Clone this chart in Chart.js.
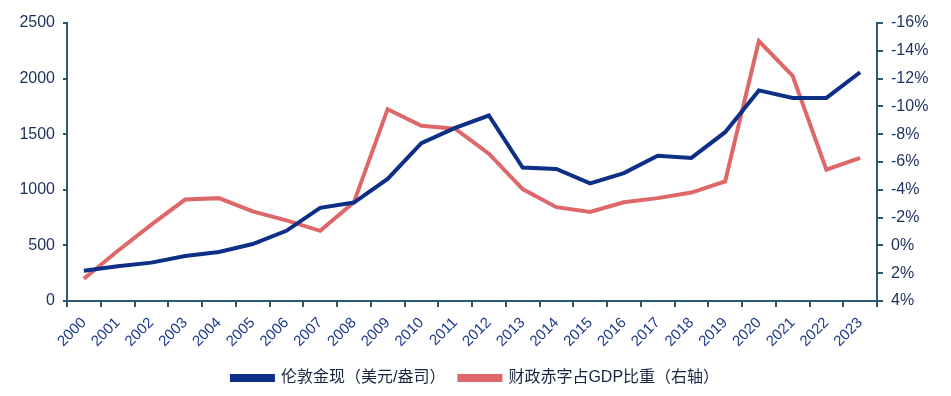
<!DOCTYPE html>
<html>
<head>
<meta charset="utf-8">
<script src="https://cdn.jsdelivr.net/npm/chart.js@4"></script>
<style>
  html, body { margin: 0; padding: 0; background: #fff; }
  #wrap { width: 951px; height: 396px; }
</style>
</head>
<body>
<div id="wrap"><canvas id="myChart" width="951" height="396"></canvas></div>
<script>
// years on the x axis
const years = ['2000', '2001', '2002', '2003', '2004', '2005', '2006', '2007', '2008', '2009', '2010', '2011',
  '2012', '2013', '2014', '2015', '2016', '2017', '2018', '2019', '2020', '2021', '2022', '2023'];

// London gold spot, USD/oz (left axis)
const goldPrice = [272, 312, 345, 405, 441, 512, 631, 838, 885, 1098, 1420, 1557,
  1668, 1200, 1187, 1058, 1150, 1306, 1287, 1518, 1894, 1826, 1826, 2057];

// fiscal deficit as % of GDP (right axis, reversed)
const deficitPct = [2.4, 0.4, -1.5, -3.3, -3.4, -2.45, -1.8, -1.05, -3.1, -9.8, -8.6, -8.4,
  -6.6, -4.05, -2.75, -2.4, -3.1, -3.4, -3.8, -4.6, -14.7, -12.2, -5.45, -6.3];

const axisColor = '#2B5A6B';
const tickColor = '#1C2F5E';
const fontFamily = '"Liberation Sans", Arial, "Noto Sans CJK SC", sans-serif';

const data = {
  labels: years,
  datasets: [
    {
      label: '伦敦金现（美元/盎司）',
      data: goldPrice,
      borderColor: '#0E2F86',
      backgroundColor: '#0E2F86',
      borderWidth: 4,
      pointRadius: 0,
      tension: 0,
      yAxisID: 'y'
    },
    {
      label: '财政赤字占GDP比重（右轴）',
      data: deficitPct,
      borderColor: '#DE6869',
      backgroundColor: '#DE6869',
      borderWidth: 4,
      pointRadius: 0,
      tension: 0,
      yAxisID: 'y1'
    }
  ]
};

const config = {
  type: 'line',
  data: data,
  options: {
    responsive: false,
    animation: false,
    layout: { padding: { top: 23, left: 0, right: 0, bottom: 0 } },
    plugins: {
      legend: {
        position: 'bottom',
        labels: {
          boxWidth: 41,
          boxHeight: 4,
          padding: 14,
          color: '#1A2440',
          font: { family: fontFamily, size: 16 }
        }
      },
      tooltip: { enabled: false }
    },
    scales: {
      x: {
        offset: true,
        grid: { offset: true, drawOnChartArea: false, drawTicks: true, tickLength: 6, color: axisColor, lineWidth: 2 },
        border: { color: axisColor, width: 2 },
        ticks: {
          color: '#1E3C8C',
          font: { family: fontFamily, size: 15 },
          minRotation: 45,
          maxRotation: 45,
          autoSkip: false,
          padding: 7
        },
        afterFit: s => { s.height = 55; }
      },
      y: {
        position: 'left',
        min: 0,
        max: 2500,
        ticks: {
          stepSize: 500,
          color: tickColor,
          font: { family: fontFamily, size: 16 },
          padding: 8,
          callback: v => String(v)
        },
        grid: { drawOnChartArea: false, drawTicks: true, tickLength: 4, color: axisColor, lineWidth: 2 },
        border: { color: axisColor, width: 2 },
        afterFit: s => { s.width = 67; }
      },
      y1: {
        position: 'right',
        reverse: true,
        min: -16,
        max: 4,
        ticks: {
          stepSize: 2,
          color: tickColor,
          font: { family: fontFamily, size: 16 },
          padding: 8,
          callback: v => v + '%'
        },
        grid: { drawOnChartArea: false, drawTicks: true, tickLength: 6, color: axisColor, lineWidth: 2 },
        border: { color: axisColor, width: 2 },
        afterFit: s => { s.width = 74; }
      }
    }
  }
};

const myChart = new Chart(document.getElementById('myChart'), config);
</script>
</body>
</html>
